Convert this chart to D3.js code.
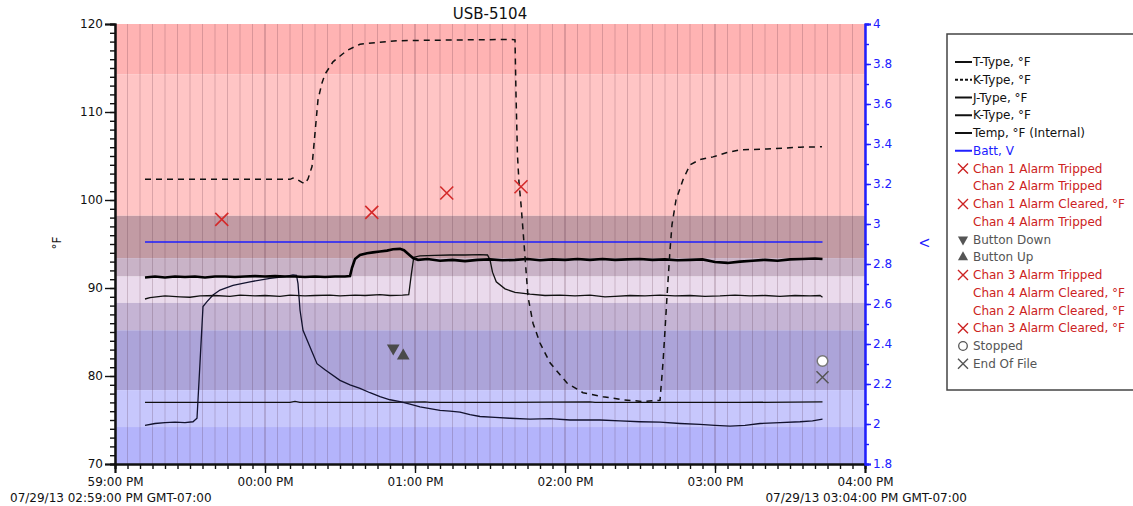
<!DOCTYPE html>
<html>
<head>
<meta charset="utf-8">
<script src="https://cdn.jsdelivr.net/npm/d3@7"></script>
<style>
body { margin: 0; background: #fff; }
svg text { font-family: "DejaVu Sans", sans-serif; }
</style>
</head>
<body>
<svg id="drawing_region"></svg>
<script>
// all times are seconds after 07/29/13 02:59:00 PM, temps in °F
var tType = [
  [12,91.2],[16,91.3],[20,91.2],[24,91.3],[28,91.25],[32,91.3],[36,91.2],[40,91.3],[44,91.3],[48,91.25],
  [52,91.3],[56,91.35],[60,91.3],[64,91.35],[68,91.3],[72,91.3],[76,91.25],[80,91.3],[84,91.25],[88,91.3],
  [92,91.3],[94,91.35],[94.8,92.3],[96,93.3],[98,93.75],[100.8,93.95],[103.2,94.05],[106,94.15],[108.8,94.25],
  [111.2,94.4],[114,94.45],[115.6,94.3],[117.2,93.9],[119.2,93.4],[121.2,93.2],[125,93.3],[130,93.1],[135,93.2],
  [140,93.05],[145,93.2],[150,93.25],[155,93.15],[160,93.2],[165,93.3],[170,93.15],[175,93.25],[180,93.2],
  [185,93.3],[190,93.2],[195,93.3],[200,93.2],[205,93.25],[210,93.3],[215,93.2],[220,93.25],[225,93.15],
  [230,93.2],[235,93.25],[240,92.95],[245,92.85],[250,93.0],[255,93.1],[260,93.2],[265,93.1],[270,93.25],
  [275,93.3],[280,93.35],[283,93.3]
];
var kTypeA = [
  [12,102.35],[40,102.35],[70,102.35],[71.2,102.5],[72.4,102.4],[74.8,102.0],[76,101.85],[77.2,102.4],
  [78.8,103.8],[80,107.6],[81.2,111.4],[82.8,113.3],[84,114.3],[87.2,115.7],[92.8,117.0],[98,117.7],
  [104.8,117.9],[112.8,118.1],[126,118.15],[142,118.2],[158.8,118.25],[160,118.2],[160.4,112],[161,105],
  [161.6,102],[162.4,99.5],[163.2,96.6],[165.2,89.0],[167.2,86.0],[170,83.75],[174,81.5],[180.8,79.2],
  [187.2,78.1],[195.2,77.65],[203.2,77.3],[211.2,77.1],[218,77.25],[219.2,81.5],[220,85.2],[220.8,89.0],
  [222,94.3],[222.8,97.2],[224.4,100],[227.2,102.3],[230,104.0],[234,104.6],[239.2,104.9],[244.8,105.4],
  [250,105.7],[260.8,105.8],[274,106.0],[282.8,106.05]
];
var jType = [
  [12,88.75],[14,88.9],[20,89.1],[26,89.0],[30,88.95],[34,89.1],[40,89.15],[46,89.05],[50,89.2],[56,89.1],
  [60,89.15],[66,89.05],[70,89.2],[76,89.1],[80,89.15],[86,89.2],[90,89.1],[96,89.2],[100,89.15],[106,89.25],
  [110,89.15],[115,89.2],[117.5,89.25],[118.5,91.5],[119.5,93.5],[122,93.65],[128,93.7],[134,93.75],
  [140,93.75],[146,93.8],[149,93.75],[150,93.2],[151,91.8],[152.5,90.7],[156,89.9],[160,89.5],[166,89.3],
  [172,89.15],[178,89.2],[184,89.1],[190,89.2],[196,89.0],[200,89.05],[206,89.15],[212,89.1],[218,89.2],
  [224,89.1],[230,89.15],[236,89.05],[242,89.1],[248,89.2],[254,89.1],[260,89.15],[266,89.05],[272,89.15],
  [278,89.1],[282,89.15],[283,88.95]
];
var kTypeB = [
  [12,74.4],[16,74.6],[20,74.7],[24,74.75],[28,74.7],[31.2,74.8],[32.8,75.2],[34,81.5],[35.2,87.9],
  [36.8,88.45],[39.2,89.2],[42,89.77],[47.2,90.3],[54,90.7],[62,91.1],[68,91.3],[71.2,91.48],[72.6,91.45],
  [73.2,90.5],[74,87.5],[75.2,85.2],[78,83.3],[80.8,81.4],[84,80.7],[90,79.5],[94,79.0],[98,78.6],[102,78.1],
  [106,77.65],[110,77.3],[114,77.1],[118,76.8],[122,76.5],[126,76.3],[130,76.1],[134,76.0],[138,75.9],
  [142,75.6],[146,75.4],[152,75.3],[158,75.2],[166,75.1],[174,75.15],[182,75.0],[194,75.0],[202,74.9],
  [210,74.8],[218,74.75],[226,74.6],[234,74.5],[240,74.4],[246,74.3],[252,74.4],[258,74.6],[266,74.7],
  [274,74.8],[279,74.9],[283,75.1]
];
var tempInternal = [
  [12,77.0],[50,77.0],[70,77.0],[72,77.12],[74,77.0],[110,77.0],[124,77.05],[126,77.0],[150,77.0],
  [190,77.05],[192,77.0],[220,77.0],[250,77.0],[283,77.05]
];
// volts
var batt = [[12,2.91],[283,2.91]];

var alarmMarks = [
  {name:'Chan 1 Alarm Tripped', t:42.7, v:97.8},
  {name:'Chan 1 Alarm Cleared, °F', t:102.7, v:98.6},
  {name:'Chan 3 Alarm Tripped', t:132.7, v:100.8},
  {name:'Chan 3 Alarm Cleared, °F', t:162.4, v:101.5}
];
var buttonDown = [{t:111.3, v:83.15}];
var buttonUp = [{t:115.3, v:82.3}];
var stopped = [{t:283, v:81.7}];
var endOfFile = [{t:283, v:79.85}];

// alarm / band levels in °F (top to bottom)
var bandLevels = [120, 114.3, 98.2, 93.4, 91.3, 88.3, 85.2, 78.4, 74.2, 70];
var bandColors = ['#ffb3b3','#ffc5c5','#c29ba4','#c9b3c7','#eadaec','#c5b4d4','#aca4d9','#c7c7fc','#b4b4fb'];

var legendNames = ['T-Type, °F','K-Type, °F','J-Type, °F','K-Type, °F','Temp, °F (Internal)','Batt, V',
  'Chan 1 Alarm Tripped','Chan 2 Alarm Tripped','Chan 1 Alarm Cleared, °F','Chan 4 Alarm Tripped',
  'Button Down','Button Up','Chan 3 Alarm Tripped','Chan 4 Alarm Cleared, °F','Chan 2 Alarm Cleared, °F',
  'Chan 3 Alarm Cleared, °F','Stopped','End Of File'];
var legendKinds = ['line','dash','line','line','line','batt','redx','red','redx','red',
  'down','up','redx','red','red','redx','circle','grayx'];

var config = {
  width: 1133, height: 506,
  plot: {left:115, right:865, top:24, bottom:464}
};

var t0 = Date.UTC(2013, 6, 29, 14, 59, 0);
var toDate = s => new Date(t0 + s*1000);

var svg = d3.select('#drawing_region')
  .attr('width', config.width)
  .attr('height', config.height);

var p = config.plot;
var xscale = d3.scaleUtc()
  .domain([toDate(0), toDate(300)])
  .range([p.left, p.right]);
var yscale = d3.scaleLinear().domain([70,120]).range([p.bottom, p.top]);
var vscale = d3.scaleLinear().domain([1.8,4]).range([p.bottom, p.top]);

svg.append('clipPath').attr('id','clip')
  .append('rect')
  .attr('x', p.left).attr('y', p.top)
  .attr('width', p.right - p.left).attr('height', p.bottom - p.top);

// background bands
svg.append('g').selectAll('rect')
  .data(bandColors)
  .enter().append('rect')
  .attr('x', p.left)
  .attr('width', p.right - p.left)
  .attr('y', (d,i) => yscale(bandLevels[i]))
  .attr('height', (d,i) => yscale(bandLevels[i+1]) - yscale(bandLevels[i]))
  .attr('fill', d => d);

// vertical grid every 5 seconds
var minorTimes = xscale.ticks(d3.utcSecond.every(5));
svg.append('g').selectAll('line')
  .data(minorTimes)
  .enter().append('line')
  .attr('x1', d => xscale(d)).attr('x2', d => xscale(d))
  .attr('y1', p.top).attr('y2', p.bottom)
  .attr('stroke', d => d.getUTCSeconds() == 0 ? 'rgba(70,30,50,0.38)' : 'rgba(70,30,50,0.2)')
  .attr('stroke-width', 1);

// series
var lineF = d3.line().x(d => xscale(toDate(d[0]))).y(d => yscale(d[1]));
var lineV = d3.line().x(d => xscale(toDate(d[0]))).y(d => vscale(d[1]));
var g = svg.append('g').attr('clip-path','url(#clip)');

g.append('path').datum(tempInternal).attr('d', lineF)
  .attr('fill','none').attr('stroke','#111').attr('stroke-width',1.3);
g.append('path').datum(kTypeB).attr('d', lineF)
  .attr('fill','none').attr('stroke','#12122e').attr('stroke-width',1.3);
g.append('path').datum(jType).attr('d', lineF)
  .attr('fill','none').attr('stroke','#111').attr('stroke-width',1.3);
g.append('path').datum(tType).attr('d', lineF)
  .attr('fill','none').attr('stroke','#000').attr('stroke-width',2.6);
g.append('path').datum(kTypeA).attr('d', lineF)
  .attr('fill','none').attr('stroke','#111').attr('stroke-width',1.5)
  .attr('stroke-dasharray','6,5');
g.append('path').datum(batt).attr('d', lineV)
  .attr('fill','none').attr('stroke','#1e1eff').attr('stroke-width',1.6);

// markers
var xmark = (sel, size) => sel.attr('d', `M${-size},${-size}L${size},${size}M${-size},${size}L${size},${-size}`);
g.selectAll('.alarm')
  .data(alarmMarks)
  .enter().append('path')
  .attr('class','alarm')
  .attr('transform', d => `translate(${xscale(toDate(d.t))},${yscale(d.v)})`)
  .call(xmark, 6.5)
  .attr('stroke','#d42a2a').attr('stroke-width',1.6).attr('fill','none');

g.selectAll('.bdown')
  .data(buttonDown)
  .enter().append('path')
  .attr('d', d3.symbol(d3.symbolTriangle, 70))
  .attr('transform', d => `translate(${xscale(toDate(d.t))},${yscale(d.v)}) rotate(180)`)
  .attr('fill','#4a4a4a');
g.selectAll('.bup')
  .data(buttonUp)
  .enter().append('path')
  .attr('transform', d => `translate(${xscale(toDate(d.t))},${yscale(d.v)})`)
  .attr('d', d3.symbol(d3.symbolTriangle, 70))
  .attr('fill','#4a4a4a');
g.selectAll('.stopped')
  .data(stopped)
  .enter().append('circle')
  .attr('cx', d => xscale(toDate(d.t))).attr('cy', d => yscale(d.v))
  .attr('r', 5.3)
  .attr('fill','#fff').attr('stroke','#777').attr('stroke-width',1.5);
g.selectAll('.eof')
  .data(endOfFile)
  .enter().append('path')
  .attr('transform', d => `translate(${xscale(toDate(d.t))},${yscale(d.v)})`)
  .call(xmark, 6)
  .attr('stroke','#555').attr('stroke-width',1.5).attr('fill','none');

// axes
var fmt = d3.utcFormat('%M:%S %p');
var xMinor = d3.axisBottom(xscale).tickValues(minorTimes).tickSize(5).tickFormat('');
var xMajor = d3.axisBottom(xscale).ticks(d3.utcMinute.every(1)).tickSize(9).tickFormat(fmt).tickPadding(4);
var yMinor = d3.axisLeft(yscale).tickValues(d3.range(70,121,1)).tickSize(5).tickFormat('');
var yMajor = d3.axisLeft(yscale).tickValues(d3.range(70,121,10)).tickSize(10).tickPadding(2);
var vMinor = d3.axisRight(vscale).tickValues(d3.range(18,41,1).map(d => d/10)).tickSize(4).tickFormat('');
var vMajor = d3.axisRight(vscale).tickValues(d3.range(18,41,2).map(d => d/10)).tickSize(6)
  .tickFormat(d => String(+d.toFixed(1))).tickPadding(2);

var axisStyle = (sel, color) => {
  sel.selectAll('path, line').attr('stroke', color);
  sel.select('.domain').attr('stroke-width', 2);
  sel.selectAll('line').attr('stroke-width', 1.4);
  sel.selectAll('text').attr('fill', color).style('font-size','12px');
};
[xMinor, xMajor].forEach(a => svg.append('g')
  .attr('transform', `translate(0,${p.bottom})`).call(a).call(axisStyle, '#111'));
[yMinor, yMajor].forEach(a => svg.append('g')
  .attr('transform', `translate(${p.left},0)`).call(a).call(axisStyle, '#111'));
[vMinor, vMajor].forEach(a => svg.append('g')
  .attr('transform', `translate(${p.right},0)`).call(a).call(axisStyle, '#2020ff'));

// titles
svg.append('text').attr('x', (p.left + p.right)/2).attr('y', 19)
  .attr('text-anchor','middle').style('font-size','15px').attr('fill','#111').text('USB-5104');
svg.append('text').attr('transform', `translate(61,243) rotate(-90)`)
  .attr('text-anchor','middle').style('font-size','12px').attr('fill','#111').text('°F');
svg.append('text').attr('transform', `translate(920,243) rotate(90)`)
  .attr('text-anchor','middle').style('font-size','13px').attr('fill','#2020ff').text('V');
svg.append('text').attr('x', 10).attr('y', 502)
  .style('font-size','12px').attr('fill','#111').text('07/29/13 02:59:00 PM GMT-07:00');
svg.append('text').attr('x', 967).attr('y', 502).attr('text-anchor','end')
  .style('font-size','12px').attr('fill','#111').text('07/29/13 03:04:00 PM GMT-07:00');

// legend
var lg = svg.append('g');
lg.append('rect').attr('x', 947).attr('y', 34).attr('width', 200).attr('height', 356)
  .attr('fill','#fff').attr('stroke','#444').attr('stroke-width',1.5);
var rowY = i => 62 + i*17.75;
var textColor = k => k == 'batt' ? '#2020ff' : (k == 'red' || k == 'redx') ? '#cc2222'
  : (k == 'down' || k == 'up' || k == 'circle' || k == 'grayx') ? '#555' : '#111';
var rows = lg.selectAll('.row')
  .data(legendNames)
  .enter().append('g')
  .attr('transform', (d,i) => `translate(0,${rowY(i)})`);
rows.append('text')
  .attr('x', 973).attr('dy','0.35em')
  .style('font-size','12px')
  .attr('fill', (d,i) => textColor(legendKinds[i]))
  .text(d => d);
rows.each(function(d, i) {
  var k = legendKinds[i];
  var r = d3.select(this);
  if (k == 'line' || k == 'dash' || k == 'batt') {
    r.append('line').attr('x1', 955).attr('x2', 972).attr('y1', 0).attr('y2', 0)
      .attr('stroke', k == 'batt' ? '#2020ff' : '#111').attr('stroke-width', 2)
      .attr('stroke-dasharray', k == 'dash' ? '3,2' : null);
  } else if (k == 'redx' || k == 'grayx') {
    r.append('path').attr('transform','translate(963,0)').call(xmark, 5)
      .attr('stroke', k == 'redx' ? '#cc2222' : '#555').attr('stroke-width',1.4).attr('fill','none');
  } else if (k == 'down' || k == 'up') {
    r.append('path').attr('d', d3.symbol(d3.symbolTriangle, 45))
      .attr('transform', `translate(963,0)${k == 'down' ? ' rotate(180)' : ''}`)
      .attr('fill','#555');
  } else if (k == 'circle') {
    r.append('circle').attr('cx', 963).attr('cy', 0).attr('r', 4.3)
      .attr('fill','#fff').attr('stroke','#555').attr('stroke-width',1.3);
  }
});
</script>
</body>
</html>
